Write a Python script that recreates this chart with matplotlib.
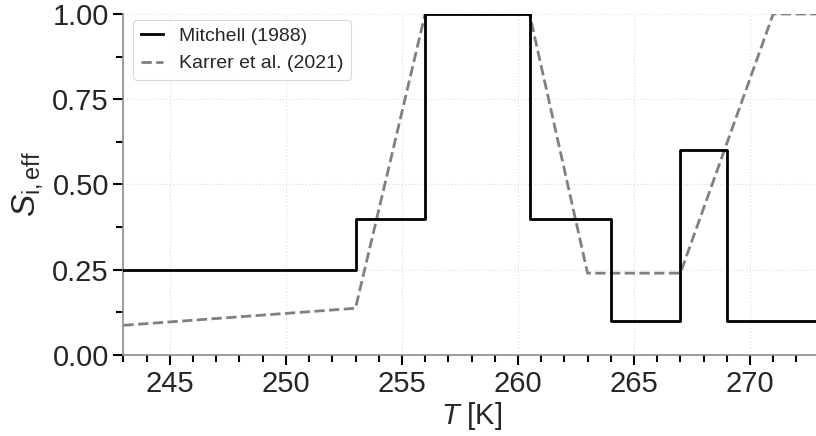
import matplotlib
matplotlib.use("Agg")
import matplotlib.pyplot as plt
from matplotlib.ticker import MultipleLocator

# Mitchell (1988): piecewise-constant efficiency, steps at the given temperatures
mitchell_T = [243, 253, 256, 260.5, 264, 267, 269, 273]
mitchell_S = [0.25, 0.40, 1.00, 0.40, 0.10, 0.60, 0.10, 0.10]

# Karrer et al. (2021): piecewise-linear efficiency
karrer_T = [243, 253, 256, 260.5, 263, 267, 271, 273]
karrer_S = [0.087, 0.137, 1.00, 1.00, 0.24, 0.24, 1.00, 1.00]

xticks = [245, 250, 255, 260, 265, 270]
yticks = [0.00, 0.25, 0.50, 0.75, 1.00]

plt.rcParams["font.family"] = ["Liberation Sans", "DejaVu Sans"]
plt.rcParams["mathtext.fontset"] = "custom"
plt.rcParams["mathtext.rm"] = "Liberation Sans"
plt.rcParams["mathtext.it"] = "Liberation Sans:italic"
plt.rcParams["mathtext.bf"] = "Liberation Sans:bold"
text_color = "#262626"

fig = plt.figure(figsize=(8.16, 4.36), dpi=100)
ax = fig.add_axes([0.1513, 0.1858, 0.8531, 0.7821])

ax.step(mitchell_T, mitchell_S, where="post", color="black", lw=2.0,
        label="Mitchell (1988)", zorder=3)
ax.plot(karrer_T, karrer_S, color="#808080", lw=2.0, ls=(0, (3.7, 1.6)),
        label="Karrer et al. (2021)", zorder=2)

ax.set_xlim(243, 273)
ax.set_ylim(0, 1)
ax.set_xticks(xticks)
ax.set_yticks(yticks)
ax.set_yticklabels([f"{v:.2f}" for v in yticks])
ax.xaxis.set_minor_locator(MultipleLocator(1))
ax.yaxis.set_minor_locator(MultipleLocator(0.125))

ax.tick_params(which="major", direction="out", length=7.5, width=1.5,
               color="black", labelsize=21, labelcolor=text_color, pad=3)
ax.tick_params(which="minor", direction="out", length=5, width=1.5,
               color="black")

ax.grid(True, which="major", color="#e0e0e0", ls=":", lw=0.9)
ax.set_axisbelow(True)

for side in ("top", "right"):
    ax.spines[side].set_visible(False)
for side in ("left", "bottom"):
    ax.spines[side].set_color("#8c8c8c")
    ax.spines[side].set_linewidth(1.2)

ax.set_xlabel(r"$T$ [K]", fontsize=21, color=text_color, labelpad=2)
ax.set_ylabel(r"$S_\mathrm{i,eff}$", fontsize=24, color=text_color)
ax.yaxis.set_label_coords(-0.112, 0.5)

leg = ax.legend(loc="upper left", fontsize=14, frameon=True,
                bbox_to_anchor=(0.0, 1.012), borderaxespad=0.5,
                handlelength=1.15, labelcolor=text_color)
leg.get_frame().set_edgecolor("#d0d0d0")
leg.get_frame().set_linewidth(0.8)

fig.savefig("out.png", dpi=100)
